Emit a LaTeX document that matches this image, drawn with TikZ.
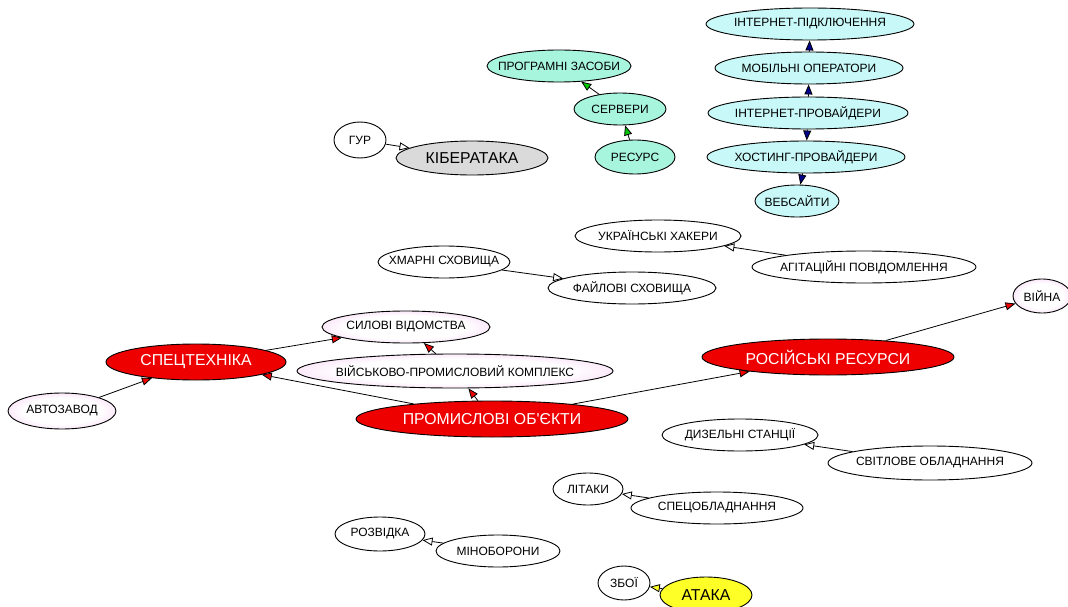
\documentclass[tikz,border=0pt]{standalone}
\usepackage{fontspec}
\newfontfamily\lib{Liberation Sans}
\usetikzlibrary{shapes.geometric,arrows.meta}
\definecolor{pinkc}{RGB}{245,200,242}
\definecolor{grayc}{RGB}{218,218,218}
\definecolor{cyanc}{RGB}{200,248,248}
\definecolor{aquac}{RGB}{168,245,222}
\definecolor{redc}{RGB}{238,0,0}
\definecolor{yellowc}{RGB}{255,255,40}
\definecolor{greenc}{RGB}{0,200,0}
\definecolor{navyc}{RGB}{0,0,140}
\newcommand{\nodetxt}[1]{\makebox[0pt][c]{#1}}
\pgfdeclareradialshading{pinkglow}{\pgfpoint{0bp}{0bp}}{color(0bp)=(white); color(18bp)=(white); color(36bp)=(pinkc); color(50bp)=(pinkc)}
\pgfdeclareradialshading{grayglow}{\pgfpoint{0bp}{0bp}}{color(0bp)=(grayc); color(32bp)=(grayc); color(50bp)=(white)}
\tikzset{
  base/.style={ellipse, draw=black, line width=0.9pt, inner sep=0pt, font=\lib\fontsize{12}{14}\selectfont},
  plain/.style={base, fill=white},
  pinkn/.style={base, shade, shading=pinkglow},
  grayn/.style={base, shade, shading=grayglow, font=\lib\fontsize{15.8}{18}\selectfont},
  cyann/.style={base, fill=cyanc},
  aquan/.style={base, fill=aquac},
  redn/.style={base, fill=redc, text=white, font=\lib\fontsize{15.8}{18}\selectfont},
  yellown/.style={base, fill=yellowc, font=\lib\fontsize{15.8}{18}\selectfont},
  ar/.style={draw=black, line width=0.8pt, -{Triangle[length=10pt,width=8pt,fill=#1]}},
}
\begin{document}
\begin{tikzpicture}[x=1pt,y=-1pt]
\useasboundingbox (0,0) rectangle (1068,607);
% top-left
\node[plain, minimum width=52, minimum height=36] (gur) at (360,140) {\nodetxt{ГУР}};
\node[grayn, minimum width=152, minimum height=34] (kiber) at (472,158) {\nodetxt{КІБЕРАТАКА}};
\node[aquan, minimum width=144, minimum height=32] (prog) at (559,66) {\nodetxt{ПРОГРАМНІ ЗАСОБИ}};
\node[aquan, minimum width=92, minimum height=32] (serv) at (620,109) {\nodetxt{СЕРВЕРИ}};
\node[aquan, minimum width=80, minimum height=34] (res) at (635,157) {\nodetxt{РЕСУРС}};
% chain
\node[cyann, minimum width=208, minimum height=32] (inet) at (810,24) {\nodetxt{ІНТЕРНЕТ-ПІДКЛЮЧЕННЯ}};
\node[cyann, minimum width=188, minimum height=32] (mob) at (809,68) {\nodetxt{МОБІЛЬНІ ОПЕРАТОРИ}};
\node[cyann, minimum width=200, minimum height=32] (iprov) at (808,113) {\nodetxt{ІНТЕРНЕТ-ПРОВАЙДЕРИ}};
\node[cyann, minimum width=198, minimum height=32] (host) at (806,157) {\nodetxt{ХОСТИНГ-ПРОВАЙДЕРИ}};
\node[cyann, minimum width=84, minimum height=32] (web) at (797,201) {\nodetxt{ВЕБСАЙТИ}};
% middle
\node[plain, minimum width=166, minimum height=32] (hack) at (658,236) {\nodetxt{УКРАЇНСЬКІ ХАКЕРИ}};
\node[plain, minimum width=224, minimum height=32] (agit) at (864,267) {\nodetxt{АГІТАЦІЙНІ ПОВІДОМЛЕННЯ}};
\node[plain, minimum width=132, minimum height=32] (cloud) at (444,262) {\nodetxt{ХМАРНІ СХОВИЩА}};
\node[plain, minimum width=168, minimum height=32] (file) at (632,288) {\nodetxt{ФАЙЛОВІ СХОВИЩА}};
\node[pinkn, minimum width=58, minimum height=34] (war) at (1042,296) {\nodetxt{ВІЙНА}};
\node[pinkn, minimum width=168, minimum height=32] (sil) at (406,327) {\nodetxt{СИЛОВІ ВІДОМСТВА}};
\node[redn, minimum width=180, minimum height=36] (spec) at (196,362) {\nodetxt{СПЕЦТЕХНІКА}};
\node[pinkn, minimum width=316, minimum height=34] (vpk) at (455,371) {\nodetxt{ВІЙСЬКОВО-ПРОМИСЛОВИЙ КОМПЛЕКС}};
\node[redn, minimum width=252, minimum height=36] (rus) at (828,357) {\nodetxt{РОСІЙСЬКІ РЕСУРСИ}};
\node[pinkn, minimum width=108, minimum height=36] (avto) at (62,411) {\nodetxt{АВТОЗАВОД}};
\node[redn, minimum width=272, minimum height=36] (prom) at (492,419) {\nodetxt{ПРОМИСЛОВІ ОБ'ЄКТИ}};
% bottom
\node[plain, minimum width=156, minimum height=32] (diz) at (740,435) {\nodetxt{ДИЗЕЛЬНІ СТАНЦІЇ}};
\node[plain, minimum width=204, minimum height=34] (svit) at (930,463) {\nodetxt{СВІТЛОВЕ ОБЛАДНАННЯ}};
\node[plain, minimum width=70, minimum height=32] (lit) at (588,489) {\nodetxt{ЛІТАКИ}};
\node[plain, minimum width=172, minimum height=32] (speco) at (717,508) {\nodetxt{СПЕЦОБЛАДНАННЯ}};
\node[plain, minimum width=90, minimum height=34] (rozv) at (380,534) {\nodetxt{РОЗВІДКА}};
\node[plain, minimum width=124, minimum height=32] (minob) at (498,551) {\nodetxt{МІНОБОРОНИ}};
\node[plain, minimum width=52, minimum height=34] (zboi) at (624,583) {\nodetxt{ЗБОЇ}};
\node[yellown, minimum width=92, minimum height=36] (ataka) at (706,595) {\nodetxt{АТАКА}};
% edges
\draw[ar=white] (gur) -- (kiber);
\draw[ar=greenc] (res) -- (serv);
\draw[ar=greenc] (serv) -- (prog);
\draw[ar=navyc] (mob) -- (inet);
\draw[ar=navyc] (iprov) -- (mob);
\draw[ar=navyc] (iprov) -- (host);
\draw[ar=navyc] (host) -- (web);
\draw[ar=white] (agit) -- (hack);
\draw[ar=white] (cloud) -- (file);
\draw[ar=redc] (rus) -- (war);
\draw[ar=redc] (prom) -- (rus);
\draw[ar=redc] (prom) -- (vpk);
\draw[ar=redc] (vpk) -- (sil);
\draw[ar=redc] (prom) -- (spec);
\draw[ar=redc] (spec) -- (sil);
\draw[ar=redc] (avto) -- (spec);
\draw[ar=white] (svit) -- (diz);
\draw[ar=white] (speco) -- (lit);
\draw[ar=white] (minob) -- (rozv);
\draw[ar=yellowc] (ataka) -- (zboi);
\end{tikzpicture}
\end{document}
